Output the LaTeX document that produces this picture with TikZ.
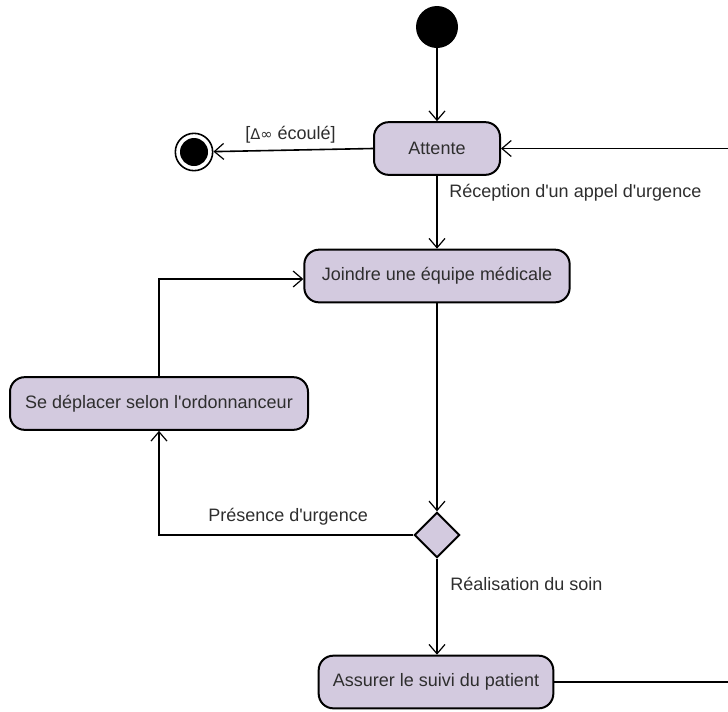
\documentclass[tikz,border=0pt]{standalone}
\usepackage{fontspec}
\setmainfont{Liberation Sans}
\newfontfamily\symfont{DejaVu Sans}
\usetikzlibrary{arrows.meta,shapes.geometric}
\definecolor{actfill}{HTML}{D3CADF}
\definecolor{txt}{HTML}{2E2E2E}
\newcommand{\apos}{\textquotesingle}
\begin{document}
\begin{tikzpicture}[x=0.75pt,y=-0.75pt,
  every node/.style={font=\fontsize{13.5}{16}\selectfont, text=txt},
  act/.style={draw=black, line width=1.5pt, fill=actfill, rounded corners=11pt, inner sep=0pt, minimum height=39.5pt},
  conn/.style={line width=1.2pt, draw=black},
  arr/.style={conn, -{Straight Barb[length=7pt,width=12pt,line width=0.9pt]}},
  lbl/.style={inner sep=0pt, anchor=base west}]
\useasboundingbox (0,0) rectangle (728,711);
% nodes
\node[circle, fill=black, minimum size=31.5pt, inner sep=0pt] (init) at (437,27) {};
\node[act, minimum width=94.5pt] (att) at (437,148.5) {Attente};
\node[circle, draw=black, line width=1.2pt, fill=white, minimum size=28pt, inner sep=0pt] (fin) at (194,152) {};
\node[circle, fill=black, minimum size=21pt, inner sep=0pt] (finin) at (fin.center) {};
\node[act, minimum width=199pt] (join) at (437,276) {Joindre une équipe médicale};
\node[act, minimum width=223.5pt] (dep) at (159,403.5) {Se déplacer selon l\apos ordonnanceur};
\node[diamond, draw=black, line width=1.5pt, fill=actfill, minimum size=34pt, inner sep=0pt] (dec) at (437,535) {};
\node[act, minimum width=176pt] (ass) at (436,682) {Assurer le suivi du patient};
% labels
\node[lbl] (l1) at (245,139) {[{\symfont\fontsize{11}{13}\selectfont Δ∞} écoulé]};
\node[lbl] (l2) at (449,197) {Réception d\apos un appel d\apos urgence};
\node[lbl] (l3) at (208,521) {Présence d\apos urgence};
\node[lbl] (l4) at (450,590) {Réalisation du soin};
% helper coordinates
\coordinate (c1) at (159,279);
\coordinate (c2) at (159,535);
\coordinate (r1) at (745,148.5);
\coordinate (r2) at (745,682);
% connectors
\draw[arr] (init) -- (att);
\draw[arr] (att.west) -- (fin);
\draw[arr] (att) -- (join);
\draw[arr] (join.south) -- (dec.north);
\draw[arr] (dep.north) -- (c1) -- (join.west |- c1);
\draw[arr] (dec.west) -- (c2) -- (dep.south);
\draw[arr] (dec.south) -- (ass.north -| dec.south);
\draw[arr] (ass.east) -- (r2) -- (r1) -- (att.east);
\end{tikzpicture}
\end{document}
